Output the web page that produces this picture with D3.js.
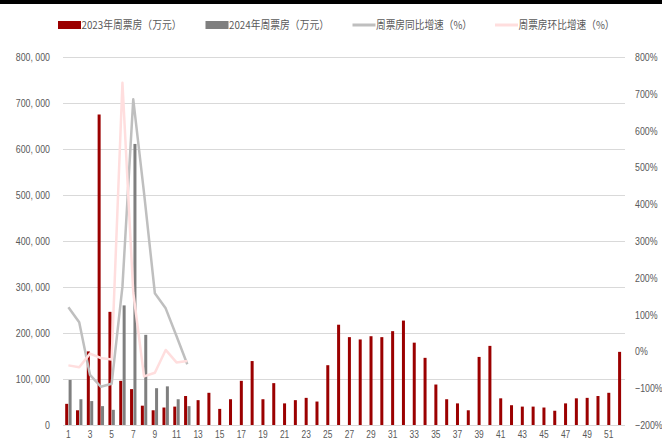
<!DOCTYPE html>
<html><head><meta charset="utf-8">
<script src="https://cdn.jsdelivr.net/npm/d3@7"></script>
<style>body{margin:0;background:#fff}</style>
</head><body><svg id="c" width="662" height="442"></svg>
<script>
const weeks = [1,2,3,4,5,6,7,8,9,10,11,12,13,14,15,16,17,18,19,20,21,22,23,24,25,26,27,28,29,30,31,32,33,34,35,36,37,38,39,40,41,42,43,44,45,46,47,48,49,50,51,52];
// 2023年周票房（万元）
const boxOffice2023 = [46000,32000,160000,675000,246000,96000,78000,42000,32000,38000,40000,63000,54000,70000,35000,56000,96000,139000,56000,91000,47000,54000,59000,51000,130000,218000,191000,186000,193000,191000,204000,227000,179000,146000,88000,56000,47000,32000,148000,172000,58000,43000,40000,40000,38000,31000,47000,58000,59000,63000,70000,159000];
// 2024年周票房（万元）
const boxOffice2024 = [98000,56000,52000,41000,33000,260000,611000,196000,80000,84000,56000,41000];
// 周票房同比增速（%）
const yoyGrowth = [120,79,-64,-96,-88,176,685,430,158,117,42,-35];
// 周票房环比增速（%）
const wowGrowth = [-38,-43,-6,-18,-22,730,160,-68,-58,4,-30,-26];
const leftTicks = [0,100000,200000,300000,400000,500000,600000,700000,800000];
const rightTicks = [-200,-100,0,100,200,300,400,500,600,700,800];
const xTickLabels = [1,3,5,7,9,11,13,15,17,19,21,23,25,27,29,31,33,35,37,39,41,43,45,47,49,51];
const legendLabels = ["2023年周票房（万元）","2024年周票房（万元）","周票房同比增速（%）","周票房环比增速（%）"];

const C = {red:"#9b0000", gray:"#7f7f7f", yoy:"#bfbfbf", wow:"#ffdede", grid:"#d9d9d9", text:"#595959"};
const svg = d3.select("#c");
svg.append("rect").attr("width",662).attr("height",442).attr("fill","#fff");
svg.append("rect").attr("width",662).attr("height",4).attr("fill","#000");

const L = 63, R = 625, T = 57, B = 425;
const x = d3.scaleBand().domain(weeks).range([L,R]);
const yL = d3.scaleLinear().domain([0,800000]).range([B,T]);
const yR = d3.scaleLinear().domain([-200,800]).range([B,T]);

function squeeze(g, sx, dx){
  g.selectAll("text").each(function(){
    const t = d3.select(this);
    t.attr("x",0).attr("transform",`translate(${dx},0) scale(${sx},1)`);
  });
}

// gridlines
const grid = svg.append("g").attr("transform",`translate(${L},0)`)
  .call(d3.axisLeft(yL).tickValues(leftTicks).tickSize(-(R-L)).tickFormat(""));
grid.select(".domain").remove();
grid.selectAll("line").attr("stroke",C.grid).attr("stroke-width",1);

// left axis labels
const fmt = d => d===0 ? "0" : d3.format(",")(d).replace(",", ", ");
const gl = svg.append("g").attr("transform",`translate(${L},0)`)
  .call(d3.axisLeft(yL).tickValues(leftTicks).tickSize(0).tickPadding(13).tickFormat(fmt));
gl.select(".domain").remove();
gl.selectAll("text").attr("fill",C.text).attr("font-family","Liberation Sans, Arial, sans-serif").attr("font-size",11);
squeeze(gl,0.8,-13);

// right axis labels
const gr = svg.append("g").attr("transform",`translate(${R},0)`)
  .call(d3.axisRight(yR).tickValues(rightTicks).tickSize(0).tickPadding(10).tickFormat(d=>d3.format("")(d)+"%"));
gr.select(".domain").remove();
gr.selectAll("text").attr("fill",C.text).attr("font-family","Liberation Sans, Arial, sans-serif").attr("font-size",11);
squeeze(gr,0.8,10);

// x axis labels
const gx = svg.append("g").attr("transform",`translate(0,${B})`)
  .call(d3.axisBottom(x).tickValues(xTickLabels).tickSize(0).tickPadding(6));
gx.select(".domain").remove();
gx.selectAll("text").attr("fill",C.text).attr("font-family","Liberation Sans, Arial, sans-serif").attr("font-size",10.5)
  .each(function(){ d3.select(this).attr("transform","scale(0.8,1)").attr("x",0); });

// bars
const bw = 3;
const has24 = i => boxOffice2024[i] !== undefined;
svg.append("g").selectAll("rect").data(boxOffice2023).join("rect")
  .attr("x",(d,i)=> x.bandwidth()/2 + x(weeks[i]) - (has24(i) ? bw+0.2 : bw/2))
  .attr("y",d=>yL(d)).attr("width",bw).attr("height",d=>B-yL(d)).attr("fill",C.red);
svg.append("g").selectAll("rect").data(boxOffice2024).join("rect")
  .attr("x",(d,i)=> x.bandwidth()/2 + x(weeks[i]) + 0.2)
  .attr("y",d=>yL(d)).attr("width",bw).attr("height",d=>B-yL(d)).attr("fill",C.gray);

// lines
const cx = i => x(weeks[i]) + x.bandwidth()/2;
const line = d3.line().x((d,i)=>cx(i)).y(d=>yR(d));
svg.append("path").datum(yoyGrowth).attr("d",line).attr("fill","none").attr("stroke",C.yoy).attr("stroke-width",2.5).attr("stroke-linejoin","round");
svg.append("path").datum(wowGrowth).attr("d",line).attr("fill","none").attr("stroke",C.wow).attr("stroke-width",2.5).attr("stroke-linejoin","round");

// legend
const legendX = [58,205.5,352.5,495];
const legendW = [100,100,96,96];
const lg = svg.append("g");
legendLabels.forEach((lab,i)=>{
  const g = lg.append("g").attr("transform",`translate(${legendX[i]},25)`);
  if(i<2){
    g.append("rect").attr("x",0).attr("y",-4).attr("width",23).attr("height",8).attr("fill",i===0?C.red:C.gray);
  } else {
    g.append("line").attr("x1",0).attr("x2",23).attr("y1",0).attr("y2",0).attr("stroke",i===2?C.yoy:C.wow).attr("stroke-width",3);
  }
  g.append("text").attr("x",23.5).attr("y",4).attr("fill",C.text)
    .attr("font-family","Noto Sans CJK SC, sans-serif").attr("font-size",11)
    .attr("textLength",legendW[i]).attr("lengthAdjust","spacingAndGlyphs").text(lab);
});
</script></body></html>
